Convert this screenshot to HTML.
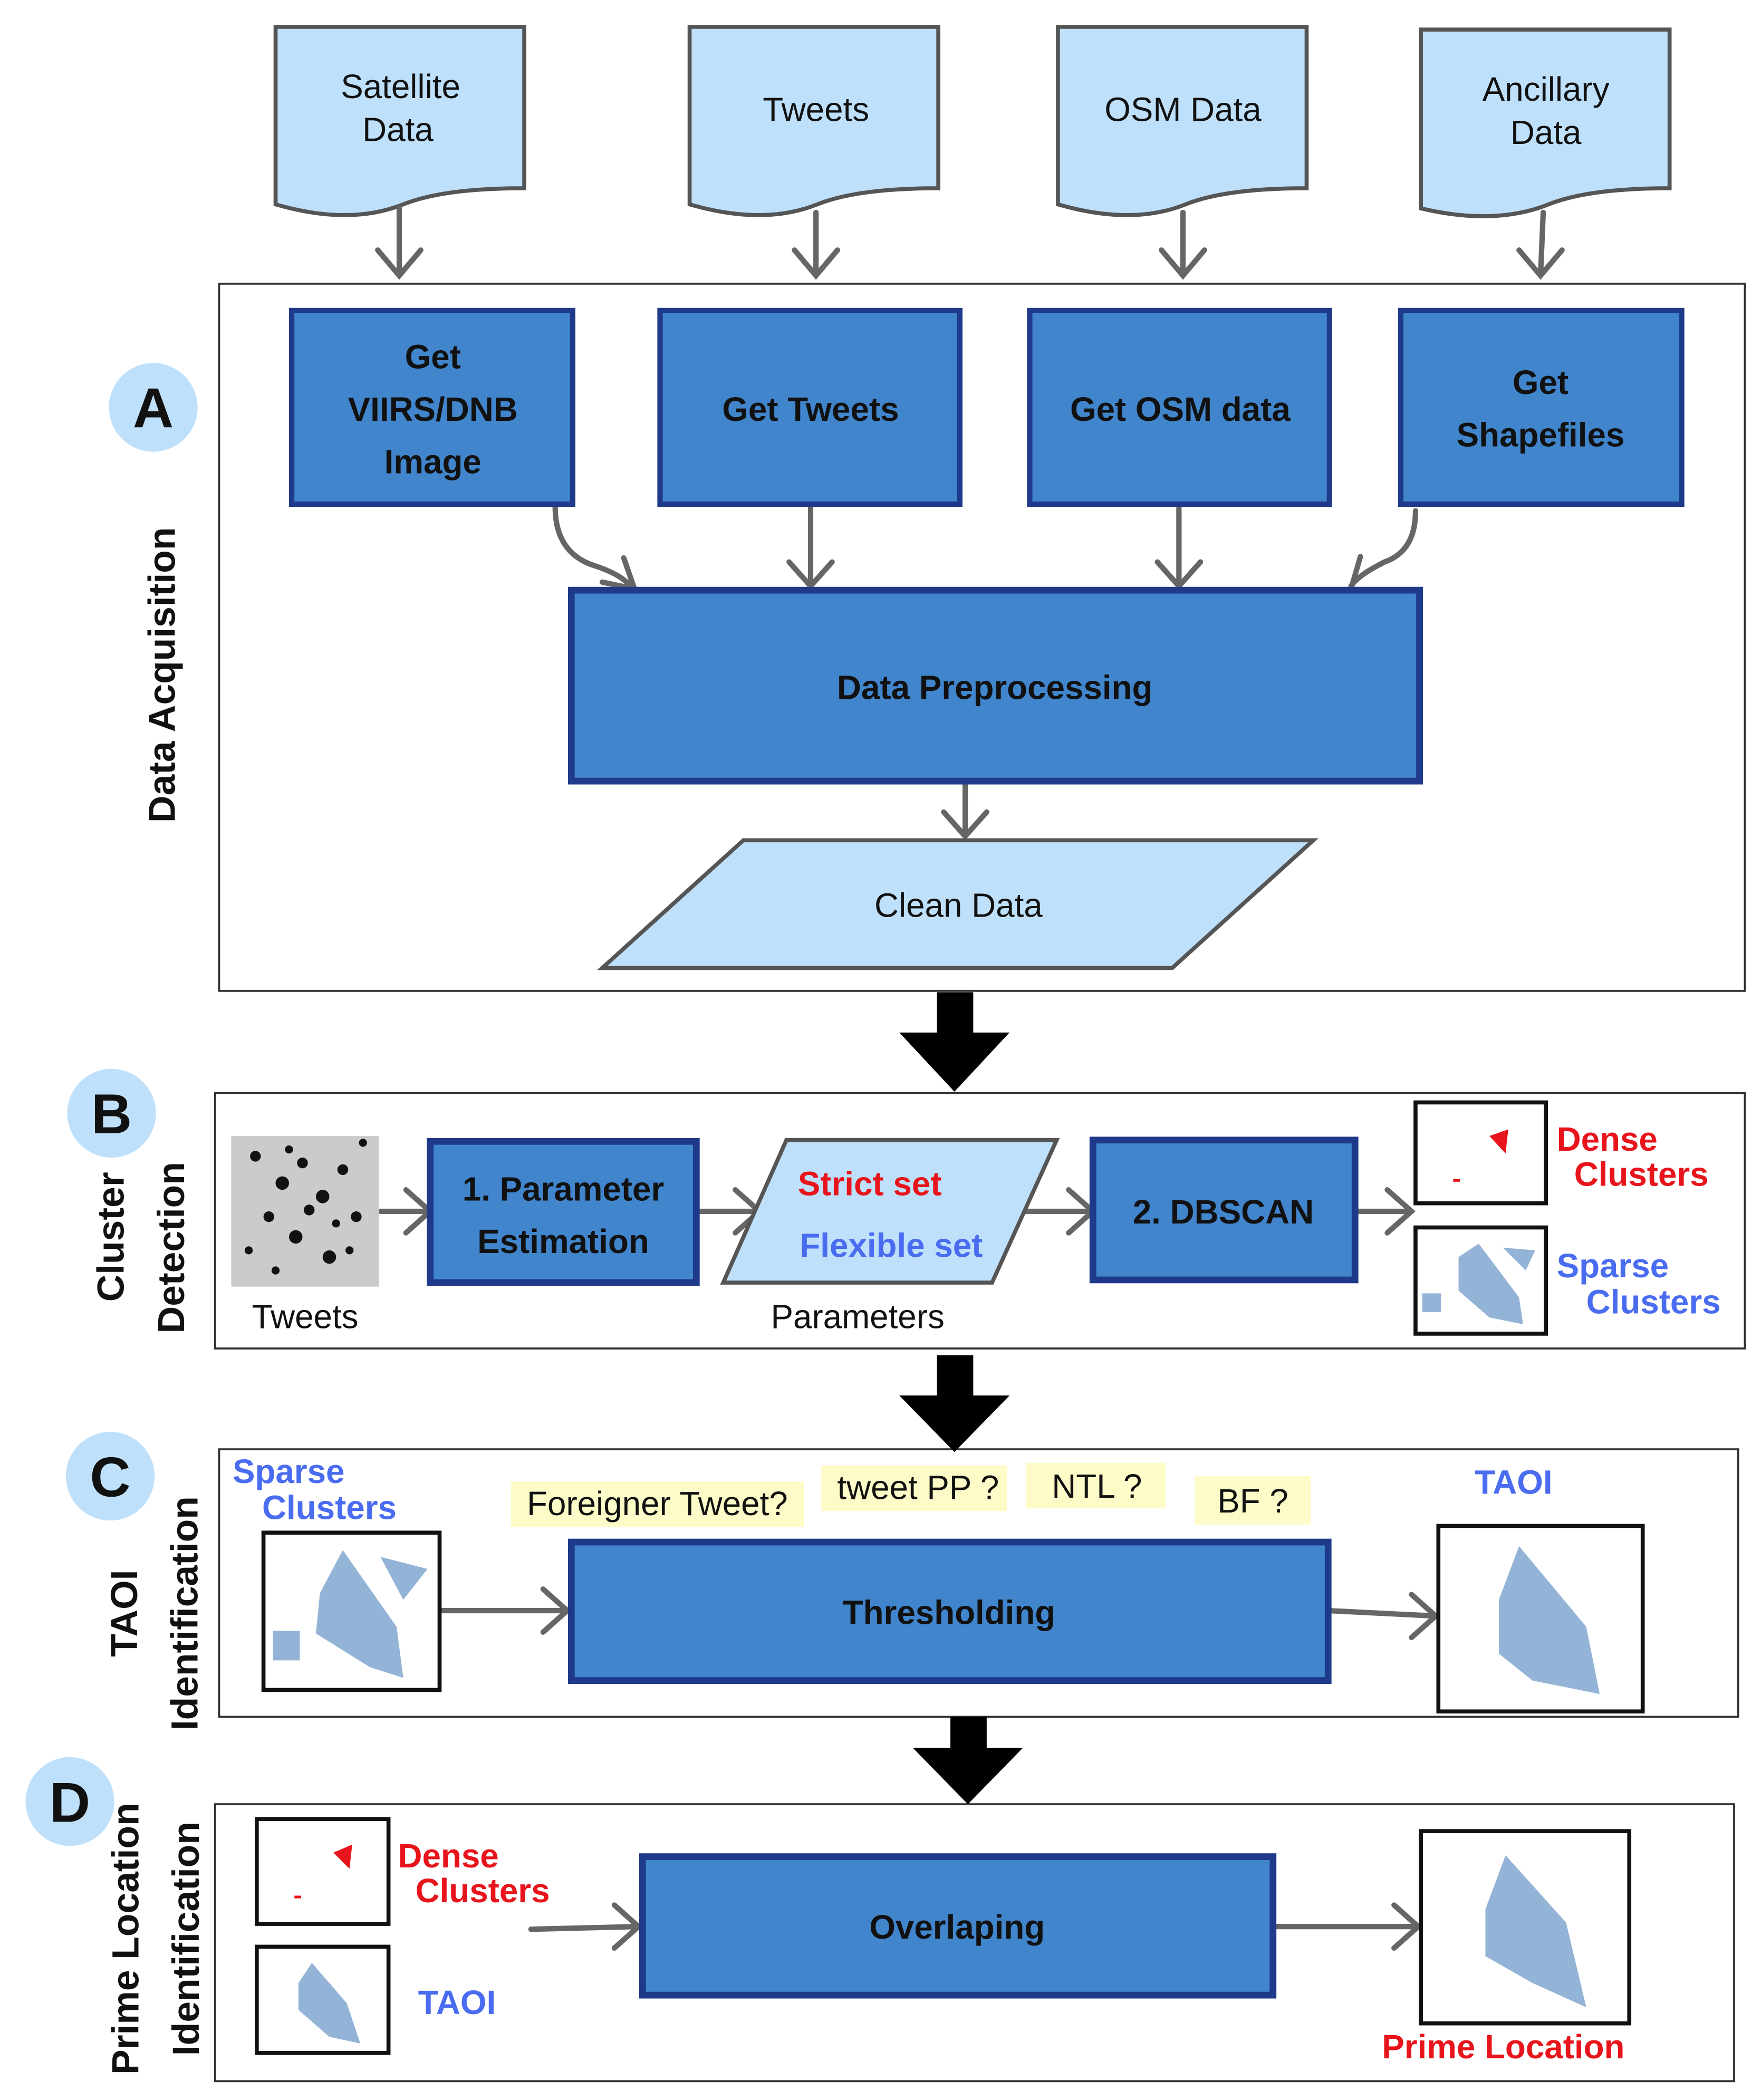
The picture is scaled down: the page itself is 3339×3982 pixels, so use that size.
<!DOCTYPE html>
<html><head><meta charset="utf-8"><style>
html,body{margin:0;padding:0;background:#fff;}
svg{display:block;}
text{font-family:"Liberation Sans",sans-serif;}
</style></head><body>
<svg width="3339" height="3982" viewBox="0 0 1310 1562" preserveAspectRatio="none" xmlns="http://www.w3.org/2000/svg">
<defs>
<marker id="ga" markerWidth="10" markerHeight="10" refX="6" refY="5" orient="auto" markerUnits="userSpaceOnUse" viewBox="0 0 10 10"></marker>
</defs>
<rect width="1310" height="1562" fill="#fff"/>
<g stroke="#333" stroke-width="1.5" fill="#fff">
<rect x="163" y="211" width="1135" height="526"/>
<rect x="160" y="813" width="1138" height="190"/>
<rect x="163" y="1078" width="1130" height="199"/>
<rect x="160" y="1342" width="1130" height="206"/>
</g>
<!-- documents -->
<g fill="#bfe0fb" stroke="#555" stroke-width="3">
<path d="M205,20 H390 V140 Q330,140 300,152 Q260,168 205,152 Z"/>
<path d="M513,20 H698 V140 Q638,140 608,152 Q568,168 513,152 Z"/>
<path d="M787,20 H972 V140 Q912,140 882,152 Q842,168 787,152 Z"/>
<path d="M1057,22 H1242 V140 Q1182,140 1152,152 Q1112,168 1057,155 Z"/>
</g>
<g font-size="25" fill="#111" text-anchor="middle">
<text x="298" y="73">Satellite</text><text x="296" y="105">Data</text>
<text x="607" y="90">Tweets</text>
<text x="880" y="90">OSM Data</text>
<text x="1150" y="75">Ancillary</text><text x="1150" y="107">Data</text>
</g>
<!-- gray arrows -->
<g stroke="#666" stroke-width="4" fill="none" stroke-linecap="round">
<path d="M297,155 V205 M281,186 L297,205 L313,186"/>
<path d="M607,158 V205 M591,186 L607,205 L623,186"/>
<path d="M880,158 V205 M864,186 L880,205 L896,186"/>
<path d="M1148,158 L1146,205 M1130,186 L1146,205 L1162,186"/>
<path d="M413,377 Q413,410 440,420 Q465,428 470,438 M448,433 L472,438 L464,415"/>
<path d="M603,378 V436 M587,418 L603,436 L619,418"/>
<path d="M877,378 V436 M861,418 L877,436 L893,418"/>
<path d="M1053,380 Q1053,410 1030,418 Q1010,428 1005,436 M1012,414 L1005,438 L1030,442"/>
<path d="M718,578 V622 M702,604 L718,622 L734,604"/>
<path d="M283,901 H320 M302,885 L320,901 L302,917"/>
<path d="M518,901 H565 M547,885 L565,901 L547,917"/>
<path d="M760,901 H813 M795,885 L813,901 L795,917"/>
<path d="M1008,901 H1050 M1032,885 L1050,901 L1032,917"/>
<path d="M327,1198 H422 M404,1182 L422,1198 L404,1214"/>
<path d="M988,1198 L1068,1202 M1050,1186 L1068,1202 L1050,1218"/>
<path d="M395,1435 L475,1433 M457,1417 L475,1433 L457,1449"/>
<path d="M947,1433 L1055,1433 M1037,1417 L1055,1433 L1037,1449"/>
</g>
<!-- blue boxes -->
<g fill="#4185cc" stroke="#1f3a8a" stroke-width="4">
<rect x="217" y="231" width="209" height="144"/>
<rect x="491" y="231" width="223" height="144"/>
<rect x="766" y="231" width="223" height="144"/>
<rect x="1042" y="231" width="209" height="144"/>
<rect x="425" y="439" width="631" height="142" stroke-width="5"/>
<rect x="320" y="849" width="198" height="105" stroke-width="5"/>
<rect x="813" y="848" width="195" height="104" stroke-width="5"/>
<rect x="425" y="1147" width="563" height="103" stroke-width="5"/>
<rect x="478" y="1381" width="469" height="103" stroke-width="5"/>
</g>
<g font-size="25" font-weight="bold" fill="#111" text-anchor="middle">
<text x="322" y="274">Get</text><text x="322" y="313">VIIRS/DNB</text><text x="322" y="352">Image</text>
<text x="603" y="313">Get Tweets</text>
<text x="878" y="313">Get OSM data</text>
<text x="1146" y="293">Get</text><text x="1146" y="332">Shapefiles</text>
<text x="740" y="520">Data Preprocessing</text>
<text x="419" y="893">1. Parameter</text><text x="419" y="932">Estimation</text>
<text x="910" y="910">2. DBSCAN</text>
<text x="706" y="1208">Thresholding</text>
<text x="712" y="1442">Overlaping</text>
</g>
<!-- parallelograms -->
<polygon points="448,720 553,625 977,625 872,720" fill="#bfe0fb" stroke="#555" stroke-width="3"/>
<text x="713" y="682" font-size="25" text-anchor="middle" fill="#111">Clean Data</text>
<polygon points="538,954 585,848 786,848 738,954" fill="#bfe0fb" stroke="#555" stroke-width="3"/>
<text x="647" y="889" font-size="25" font-weight="bold" fill="#e8141b" text-anchor="middle">Strict set</text>
<text x="663" y="935" font-size="25" font-weight="bold" fill="#4a6cf0" text-anchor="middle">Flexible set</text>
<!-- circles -->
<g fill="#bfe0fb">
<circle cx="114" cy="303" r="33"/><circle cx="83" cy="828" r="33"/><circle cx="82" cy="1098" r="33"/><circle cx="52" cy="1340" r="33"/>
</g>
<g font-size="42" font-weight="bold" fill="#111" text-anchor="middle">
<text x="114" y="318">A</text><text x="83" y="843">B</text><text x="82" y="1113">C</text><text x="52" y="1355">D</text>
</g>
<g font-size="28" font-weight="bold" fill="#111" text-anchor="middle">
<text transform="translate(130,502) rotate(-90)">Data Acquisition</text>
<text transform="translate(92,920) rotate(-90)">Cluster</text>
<text transform="translate(137,928) rotate(-90)">Detection</text>
<text transform="translate(102,1200) rotate(-90)">TAOI</text>
<text transform="translate(147,1200) rotate(-90)">Identification</text>
<text transform="translate(103,1442) rotate(-90)">Prime Location</text>
<text transform="translate(148,1442) rotate(-90)">Identification</text>
</g>
<!-- black arrows -->
<g fill="#000">
<polygon points="697,738 724,738 724,768 751,768 710,812 669,768 697,768"/>
<polygon points="697,1008 724,1008 724,1038 751,1038 710,1080 669,1038 697,1038"/>
<polygon points="707,1277 734,1277 734,1300 761,1300 720,1342 679,1300 707,1300"/>
</g>
<!-- tweet image -->
<rect x="172" y="845" width="110" height="112" fill="#c9ccc9"/>
<g fill="#111">
<circle cx="190" cy="860" r="4"/><circle cx="210" cy="880" r="5"/><circle cx="225" cy="865" r="4"/><circle cx="240" cy="890" r="5"/><circle cx="200" cy="905" r="4"/><circle cx="220" cy="920" r="5"/><circle cx="255" cy="870" r="4"/><circle cx="265" cy="905" r="4"/><circle cx="245" cy="935" r="5"/><circle cx="185" cy="930" r="3"/><circle cx="230" cy="900" r="4"/><circle cx="270" cy="850" r="3"/><circle cx="205" cy="945" r="3"/><circle cx="260" cy="930" r="3"/><circle cx="215" cy="855" r="3"/><circle cx="250" cy="910" r="3"/>
</g>
<g font-size="25" fill="#111" text-anchor="middle">
<text x="227" y="988">Tweets</text>
<text x="638" y="988">Parameters</text>
</g>
<!-- small images -->
<g fill="#fff" stroke="#111" stroke-width="3">
<rect x="1053" y="820" width="97" height="75"/>
<rect x="1053" y="913" width="97" height="79"/>
<rect x="196" y="1140" width="131" height="117"/>
<rect x="1070" y="1135" width="152" height="138"/>
<rect x="191" y="1353" width="98" height="78"/>
<rect x="191" y="1448" width="98" height="79"/>
<rect x="1057" y="1362" width="155" height="143"/>
</g>
<g fill="#e8141b">
<polygon points="1108,845 1122,840 1120,858"/><rect x="1081" y="877" width="5" height="2"/>
<polygon points="248,1378 262,1372 260,1390"/><rect x="219" y="1410" width="5" height="2"/>
<polygon points="1126,1434 1138,1430 1137,1444"/><rect x="1113" y="1448" width="6" height="2"/>
</g>
<g fill="#93b4d6">
<polygon points="1085,935 1100,925 1130,965 1133,985 1108,980 1085,960"/>
<polygon points="1118,928 1142,930 1135,945"/>
<rect x="1058" y="962" width="14" height="14"/>
<polygon points="238,1185 255,1153 295,1210 300,1248 275,1240 235,1215"/>
<polygon points="283,1158 318,1167 300,1190"/>
<rect x="203" y="1213" width="20" height="22"/>
<polygon points="1115,1190 1130,1150 1180,1210 1190,1260 1140,1250 1115,1230"/>
<polygon points="222,1475 232,1460 258,1490 268,1520 245,1515 222,1495"/>
<polygon points="1105,1420 1120,1380 1165,1430 1180,1493 1140,1475 1105,1455"/>
</g>
<g font-size="25" font-weight="bold" text-anchor="start">
<text x="1158" y="856" fill="#e8141b">Dense</text><text x="1171" y="882" fill="#e8141b">Clusters</text>
<text x="1158" y="950" fill="#4a6cf0">Sparse</text><text x="1180" y="977" fill="#4a6cf0">Clusters</text>
<text x="173" y="1103" fill="#4a6cf0">Sparse</text><text x="195" y="1130" fill="#4a6cf0">Clusters</text>
<text x="1097" y="1111" fill="#4a6cf0">TAOI</text>
<text x="296" y="1389" fill="#e8141b">Dense</text><text x="309" y="1415" fill="#e8141b">Clusters</text>
<text x="311" y="1498" fill="#4a6cf0">TAOI</text>
<text x="1028" y="1531" fill="#e8141b">Prime Location</text>
</g>
<!-- yellow labels -->
<g fill="#fdfbc8">
<rect x="380" y="1102" width="218" height="34"/>
<rect x="611" y="1090" width="138" height="34"/>
<rect x="763" y="1088" width="104" height="34"/>
<rect x="889" y="1098" width="86" height="36"/>
</g>
<g font-size="25" fill="#111" text-anchor="middle">
<text x="489" y="1127">Foreigner Tweet?</text>
<text x="683" y="1115">tweet PP ?</text>
<text x="816" y="1114">NTL ?</text>
<text x="932" y="1125">BF ?</text>
</g>
</svg>
</body></html>
